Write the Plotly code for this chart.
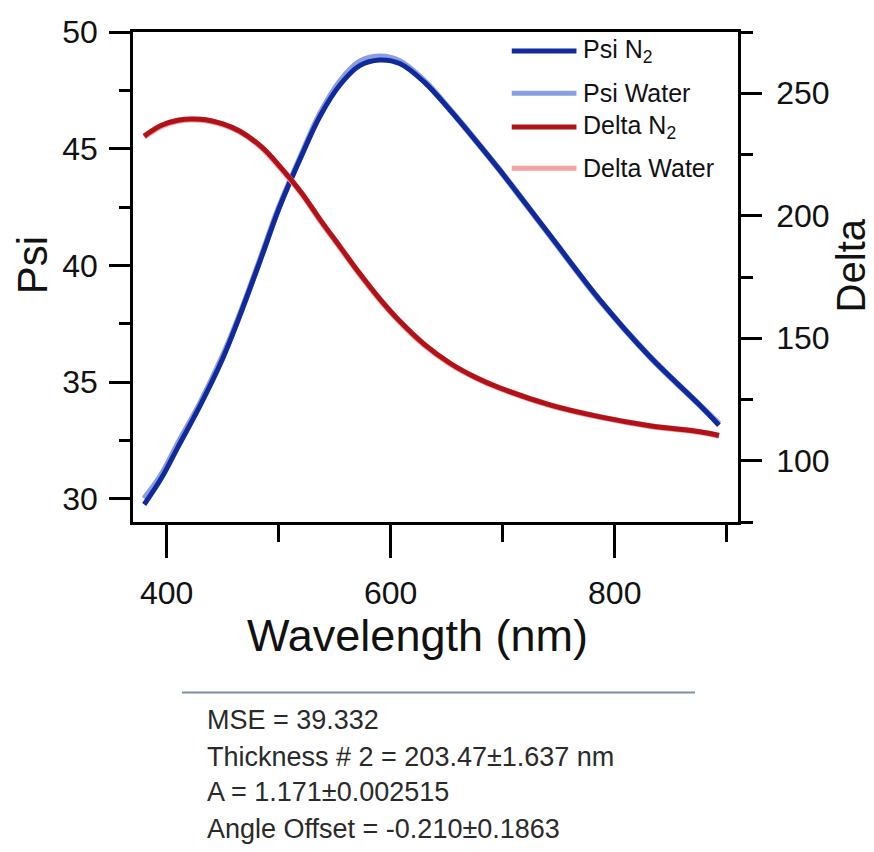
import plotly.graph_objects as go

# ---------------- data ----------------
wavelength_nm = [380, 395, 410, 430, 450, 465, 485, 500, 520, 537, 555, 572, 590,
                 608, 630, 653, 675, 697, 742, 787, 831, 876, 893]
psi_n2 = [29.75, 30.85, 32.20, 34.00, 36.00, 37.80, 40.40, 42.40, 44.65, 46.40, 47.75,
          48.55, 48.80, 48.65, 47.85, 46.65, 45.40, 44.10, 41.30, 38.50, 36.10, 34.00, 33.15]
psi_water = [30.00, 31.00, 32.35, 34.10, 36.10, 37.85, 40.45, 42.45, 44.70, 46.50, 47.90,
             48.72, 48.95, 48.75, 47.90, 46.67, 45.40, 44.10, 41.28, 38.48, 36.10, 34.00, 33.20]
delta_n2 = [232.5, 236.8, 239.0, 239.4, 237.5, 234.6, 228.0, 220.7, 209.6, 198.4, 187.2,
            176.6, 166.2, 157.0, 147.5, 139.8, 134.2, 129.8, 122.8, 117.9, 114.3, 111.8, 110.3]
delta_water = [232.2, 236.5, 238.8, 239.2, 237.3, 234.4, 227.8, 220.4, 209.4, 198.2, 187.0,
               176.4, 166.0, 156.8, 147.3, 139.6, 134.1, 129.7, 122.7, 117.8, 114.2, 111.7, 110.2]

series_names = ["Psi N<sub>2</sub>", "Psi Water", "Delta N<sub>2</sub>", "Delta Water"]
series_colors = ["#102a9c", "#8b9de3", "#b01217", "#f4a3a3"]

psi_ticks = [30, 35, 40, 45, 50]
delta_ticks = [100, 150, 200, 250]
wl_ticks = [400, 600, 800]

axis_titles = ["Wavelength (nm)", "Psi", "Delta"]

fit_results = ["MSE = 39.332",
               "Thickness # 2 = 203.47\u00b11.637 nm",
               "A = 1.171\u00b10.002515",
               "Angle Offset = -0.210\u00b10.1863"]

FONT = "Liberation Sans, Arial, sans-serif"

fig = go.Figure()
fig.add_trace(go.Scatter(x=wavelength_nm, y=psi_water, mode="lines", name=series_names[1],
                         line=dict(color=series_colors[1], width=6, shape="spline"), yaxis="y"))
fig.add_trace(go.Scatter(x=wavelength_nm, y=psi_n2, mode="lines", name=series_names[0],
                         line=dict(color=series_colors[0], width=5, shape="spline"), yaxis="y"))
fig.add_trace(go.Scatter(x=wavelength_nm, y=delta_water, mode="lines", name=series_names[3],
                         line=dict(color=series_colors[3], width=6, shape="spline"), yaxis="y2"))
fig.add_trace(go.Scatter(x=wavelength_nm, y=delta_n2, mode="lines", name=series_names[2],
                         line=dict(color=series_colors[2], width=5, shape="spline"), yaxis="y2"))

axis_common = dict(showline=True, linecolor="black", linewidth=2.5, ticks="outside",
                   tickcolor="black", tickwidth=2.5, showgrid=False, zeroline=False,
                   tickfont=dict(family=FONT, size=32, color="#111"))

fig.update_layout(
    width=874, height=852,
    margin=dict(l=133, r=136, t=32, b=330),
    paper_bgcolor="white", plot_bgcolor="white",
    showlegend=False,
    xaxis=dict(range=[370, 910], tickvals=wl_ticks, ticklen=33, mirror=True,
               minor=dict(dtick=100, tick0=400, ticklen=17, tickwidth=2.5, tickcolor="black", ticks="outside"),
               ticklabelstandoff=8,
               **axis_common),
    yaxis=dict(range=[29, 50], tickvals=psi_ticks, ticklen=21,
               minor=dict(dtick=2.5, tick0=30, ticklen=11, tickwidth=2.5, tickcolor="black", ticks="outside"),
               ticklabelstandoff=5,
               **axis_common),
    yaxis2=dict(range=[75, 275], tickvals=delta_ticks, ticklen=21, overlaying="y", side="right",
                minor=dict(dtick=25, tick0=75, ticklen=12, tickwidth=2.5, tickcolor="black", ticks="outside"),
                ticklabelstandoff=8,
                **axis_common),
)

# axis titles as annotations
fig.add_annotation(xref="paper", yref="paper", x=0.471, y=-0.232, text=axis_titles[0],
                   showarrow=False, xanchor="center", yanchor="middle",
                   font=dict(family=FONT, size=45, color="#111"))
fig.add_annotation(xref="paper", yref="paper", x=-0.167, y=0.524, text=axis_titles[1],
                   showarrow=False, xanchor="center", yanchor="middle", textangle=-90,
                   font=dict(family=FONT, size=42, color="#111"))
fig.add_annotation(xref="paper", yref="paper", x=1.187, y=0.524, text=axis_titles[2],
                   showarrow=False, xanchor="center", yanchor="middle", textangle=-90,
                   font=dict(family=FONT, size=40, color="#111"))

# custom legend (line samples + labels) in paper coordinates
legend_y = [0.961, 0.875, 0.806, 0.722]
for yy, idx in zip(legend_y, range(4)):
    fig.add_shape(type="line", xref="paper", yref="paper", x0=0.626, x1=0.733, y0=yy, y1=yy,
                  line=dict(color=series_colors[idx], width=5))
    fig.add_annotation(xref="paper", yref="paper", x=0.740, y=yy, text=series_names[idx],
                       showarrow=False, xanchor="left", yanchor="middle",
                       font=dict(family=FONT, size=25, color="#111"))

# separator line and fit results text
fig.add_shape(type="line", xref="paper", yref="paper", x0=0.081, x1=0.929, y0=-0.348, y1=-0.348,
              line=dict(color="#7f90a0", width=2))
text_y = [-0.405, -0.479, -0.552, -0.626]
for yy, t in zip(text_y, fit_results):
    fig.add_annotation(xref="paper", yref="paper", x=0.119, y=yy, text=t, showarrow=False,
                       xanchor="left", yanchor="middle",
                       font=dict(family=FONT, size=27, color="#2a2a2a"))

fig.write_html("out.html")
